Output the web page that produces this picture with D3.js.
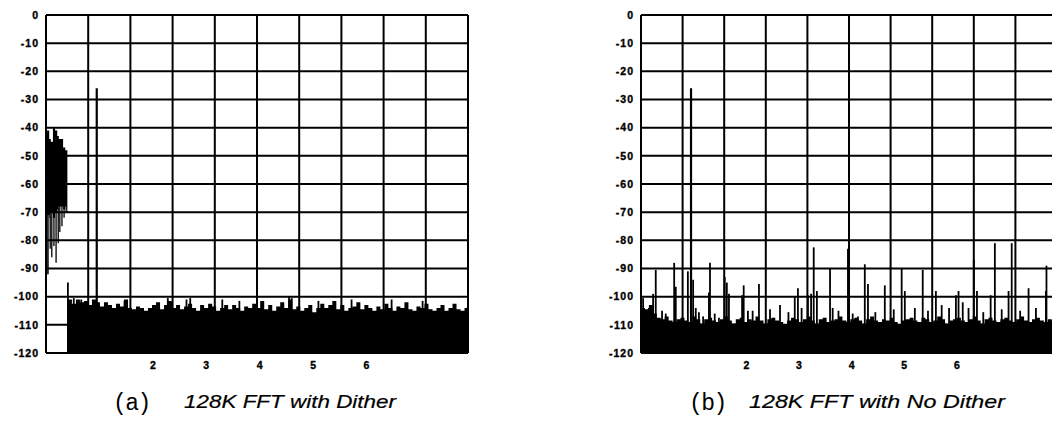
<!DOCTYPE html>
<html>
<head>
<meta charset="utf-8">
<script src="https://cdn.jsdelivr.net/npm/d3@7"></script>
<style>
  body { margin: 0; background: #fff; }
  svg { display: block; }
</style>
</head>
<body>
<svg id="chart" width="1052" height="430"></svg>
<script>
// ---- axis definitions ----
const dbTicks = [0, -10, -20, -30, -40, -50, -60, -70, -80, -90, -100, -110, -120];
const dbTickLabels = ["0", "-10", "-20", "-30", "-40", "-50", "-60", "-70", "-80", "-90", "-100", "-110", "-120"];
const freqTicks = [2, 3, 4, 5, 6];
const freqMax = 7.9;          // right edge of the analyser screen
const gridDivisions = 10;     // vertical graticule lines
const dbMin = -120, dbMax = 0;

// ---- (a) with dither ----
// low-frequency dither band: column frequency, band top, band bottom, tail end (dB)
const ditherFreq = [0.0, 0.02, 0.06, 0.09, 0.13, 0.17, 0.21, 0.24, 0.28, 0.32, 0.36, 0.39];
const ditherTop  = [-42, -41, -44, -45, -40, -41, -43, -44, -44, -47, -48, -48];
const ditherBase = [-70, -71, -72, -70, -72, -70, -69, -68, -68, -69, -68, -70];
const ditherTail = [-92, -92, -83, -86, -82, -88, -81, -77, -75, -72, -70, -70];

// noise floor, bins of floorStep starting at floorStartA (dB)
const floorStartA = 0.41;
const floorStep = 0.075;
const floorA = [
  -101, -102.5, -101, -102, -101.5, -103, -101, -102, -103.5, -102,
  -103, -104, -102.5, -103.5, -101, -104, -104.5, -103.5, -104, -105,
  -104, -103, -102, -104.5, -103, -101.5, -104, -103, -104.5, -103.5,
  -102.5, -104, -105, -103, -104, -102.5, -103.5, -105, -104, -103,
  -104.5, -103, -104, -105, -103.5, -104, -102.5, -104, -101.5, -104.5,
  -103, -105, -103.5, -102, -104, -101, -104.5, -103.5, -105, -104,
  -103, -105.5, -104, -102.5, -104, -103, -101.5, -104.5, -103, -105,
  -104, -103.5, -102, -104.5, -103, -104, -105, -103.5, -104.5, -102.5,
  -104, -105, -103.5, -104, -102, -104.5, -105, -103.5, -104, -102.5,
  -104.5, -105, -104, -103, -105, -104, -102.5, -104.5, -105, -104
];
// discrete lines above the floor (frequency, dB)
const spikeFreqA = [0.41, 0.95, 0.52, 0.66, 1.47, 2.28, 2.63, 2.70, 3.30, 3.62, 4.55, 4.60, 5.10, 5.72, 6.47, 7.05];
const spikeDbA   = [-95, -26, -100.5, -101, -101.5, -100.5, -101, -100.5, -101, -101.5, -100, -100.5, -101.5, -101, -101, -101.5];

// ---- (b) without dither ----
const floorStartB = 0.0;
const floorB = [
  -104, -104.5, -103, -106, -107.5, -108, -107, -108.5, -109, -108,
  -107.5, -108.5, -109, -107, -108, -109.5, -108, -107.5, -108.5, -109,
  -108, -107, -108.5, -109.5, -108, -107.5, -109, -108, -108.5, -107,
  -108.5, -109.5, -108, -107.5, -108.5, -109, -110, -108.5, -107.5, -108,
  -109, -108, -107, -108.5, -109.5, -108, -107.5, -109, -108.5, -108,
  -107, -108.5, -109, -108, -107.5, -108.5, -109.5, -108, -107, -108.5,
  -109, -108, -108.5, -107.5, -109, -110, -108.5, -108, -107.5, -108.5,
  -109, -107.5, -108, -109, -108.5, -107, -108, -109.5, -108.5, -108,
  -107.5, -108.5, -109, -108, -107, -108.5, -109.5, -108, -107.5, -108.5,
  -109, -108, -107.5, -108.5, -109, -108, -107, -108.5, -109, -108,
  -107.5, -108.5, -109, -108, -108.5
];
const spikeFreqB = [
  0.04, 0.15, 0.23, 0.28, 0.63, 0.66, 0.89, 0.95, 0.99, 1.04,
  1.18, 1.29, 1.31, 1.48, 1.59, 1.63, 1.67, 1.92, 1.95, 2.03,
  2.24, 2.64, 2.92, 2.98, 3.17, 3.23, 3.28, 3.34, 3.59, 3.64,
  3.93, 4.02, 4.12, 4.25, 4.31, 4.63, 4.95, 5.01, 5.20, 5.35,
  5.60, 5.71, 5.98, 6.03, 6.11, 6.22, 6.32, 6.38, 6.64, 6.72,
  6.98, 7.04, 7.36, 7.69, 7.70,
  0.40, 0.47, 1.10, 1.40, 2.12, 2.45, 2.80, 3.05, 3.75, 4.45,
  4.80, 5.45, 5.85, 6.50, 6.85, 7.20, 7.50
];
const spikeDbB = [
  -100.5, -104, -99, -90.5, -88, -96.5, -91, -26, -94, -104,
  -107, -98.5, -88, -107.5, -93, -95, -99, -99.5, -96, -105,
  -95.5, -103, -100, -97, -99.5, -99, -82.5, -98, -90, -104,
  -83, -106, -107, -88.5, -95.5, -96, -90, -98, -104, -90.5,
  -98, -103, -99.5, -98, -102, -104, -87, -98, -99.5, -81,
  -98, -81, -97, -98, -89,
  -105, -106, -105.5, -106, -105, -104.5, -105.5, -104, -105, -105.5,
  -104.5, -105, -104, -105.5, -104.5, -105, -104
];

const captionTagA = "(a)", captionTextA = "128K FFT with Dither";
const captionTagB = "(b)", captionTextB = "128K FFT with No Dither";

// ---- drawing ----
const svg = d3.select("#chart");
svg.append("rect").attr("width", 1052).attr("height", 430).attr("fill", "#fff");

function drawPanel(opt) {
  const g = svg.append("g").attr("transform", `translate(${opt.left},${opt.top})`);
  const x = d3.scaleLinear().domain([0, freqMax]).range([0, opt.width]);
  const y = d3.scaleLinear().domain([dbMin, dbMax]).range([opt.height, 0]);

  // noise floor as a filled step area down to the bottom of the screen
  const floorPts = opt.floor.map((v, i) => ({ f: opt.floorStart + i * floorStep, db: v }));
  floorPts.push({ f: freqMax, db: opt.floor[opt.floor.length - 1] });
  g.append("path")
    .datum(floorPts)
    .attr("fill", "#000")
    .attr("d", d3.area().x(d => x(d.f)).y0(y(dbMin)).y1(d => y(d.db)).curve(d3.curveStepAfter));

  // dither band (only on panel a)
  if (opt.dither) {
    const cols = ditherFreq.map((f, i) => ({ f, top: ditherTop[i], base: ditherBase[i], tail: ditherTail[i] }));
    const bandPts = cols.concat([{ f: 0.40, top: -48, base: -70 }]);
    g.append("path")
      .datum(bandPts)
      .attr("fill", "#000")
      .attr("d", d3.area().x(d => x(d.f)).y0(d => y(d.base)).y1(d => y(d.top)).curve(d3.curveStepAfter));
    g.selectAll(".tail").data(cols).join("line")
      .attr("x1", d => x(d.f) + 1).attr("x2", d => x(d.f) + 1)
      .attr("y1", d => y(d.base) - 1).attr("y2", d => y(d.tail))
      .attr("stroke", "#000").attr("stroke-width", 1.3);
  }

  // discrete spectral lines
  const spikes = opt.spikeFreq.map((f, i) => ({ f, db: opt.spikeDb[i] }));
  g.selectAll(".spike").data(spikes).join("line")
    .attr("x1", d => x(d.f)).attr("x2", d => x(d.f))
    .attr("y1", y(dbMin)).attr("y2", d => y(d.db))
    .attr("stroke", "#000")
    .attr("stroke-width", d => d.db > -50 ? 2.2 : 1.8);

  // graticule
  const gridF = d3.range(gridDivisions + 1).map(i => i * freqMax / gridDivisions);
  g.selectAll(".vg").data(gridF).join("line")
    .attr("x1", d => x(d)).attr("x2", d => x(d))
    .attr("y1", 0).attr("y2", opt.height)
    .attr("stroke", "#000").attr("stroke-width", 2);
  g.selectAll(".hg").data(dbTicks).join("line")
    .attr("x1", 0).attr("x2", opt.width)
    .attr("y1", d => y(d)).attr("y2", d => y(d))
    .attr("stroke", "#000").attr("stroke-width", 2);

  // dB labels
  g.selectAll(".yl").data(dbTicks).join("text")
    .attr("x", -7).attr("y", d => y(d))
    .attr("dy", "0.36em")
    .attr("text-anchor", "end")
    .attr("font-family", "Liberation Sans, Arial, sans-serif")
    .attr("font-weight", "bold").attr("font-size", 10.5)
    .attr("letter-spacing", 1)
    .attr("stroke", "#000").attr("stroke-width", 0.35)
    .text((d, i) => dbTickLabels[i]);

  // frequency labels
  g.selectAll(".xl").data(freqTicks).join("text")
    .attr("x", d => x(d)).attr("y", opt.height + 16)
    .attr("text-anchor", "middle")
    .attr("font-family", "Liberation Sans, Arial, sans-serif")
    .attr("font-weight", "bold").attr("font-size", 10.5)
    .attr("stroke", "#000").attr("stroke-width", 0.35)
    .text(d => d);

  // caption
  svg.append("text")
    .attr("x", opt.tagX).attr("y", 410)
    .attr("font-family", "Liberation Mono, DejaVu Sans Mono, monospace")
    .attr("font-size", 23)
    .attr("letter-spacing", -1.5)
    .text(opt.tag);
  svg.append("text")
    .attr("x", opt.capX).attr("y", 408)
    .attr("font-family", "Liberation Sans, Arial, sans-serif")
    .attr("font-style", "italic")
    .attr("font-size", 19)
    .attr("stroke", "#000").attr("stroke-width", 0.2)
    .attr("textLength", opt.capW).attr("lengthAdjust", "spacingAndGlyphs")
    .text(opt.caption);
}

drawPanel({
  left: 46, top: 15, width: 422, height: 338,
  floor: floorA, floorStart: floorStartA,
  spikeFreq: spikeFreqA, spikeDb: spikeDbA, dither: true,
  tag: captionTagA, tagX: 113, caption: captionTextA, capX: 184, capW: 212
});
drawPanel({
  left: 641, top: 15, width: 416, height: 338,
  floor: floorB, floorStart: floorStartB,
  spikeFreq: spikeFreqB, spikeDb: spikeDbB, dither: false,
  tag: captionTagB, tagX: 689, caption: captionTextB, capX: 749, capW: 256
});
</script>
</body>
</html>
